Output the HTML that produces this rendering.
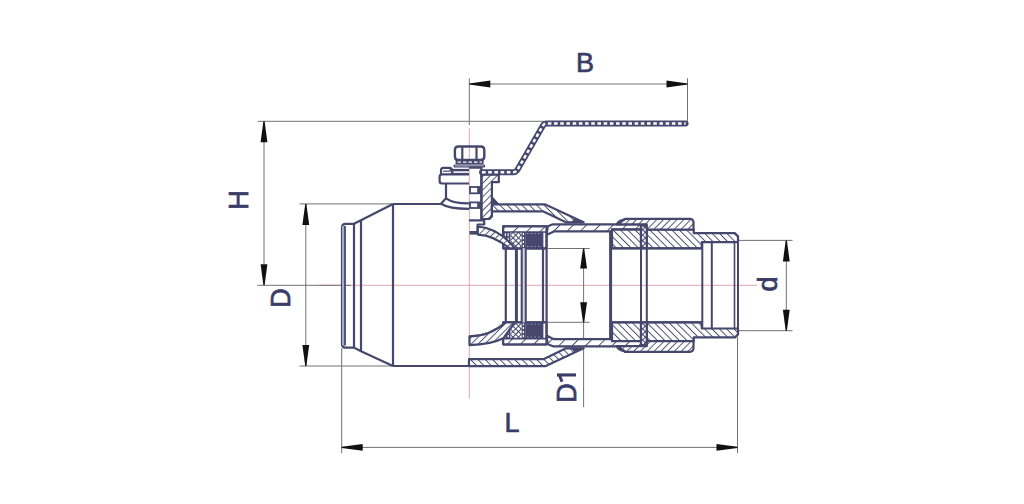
<!DOCTYPE html>
<html><head><meta charset="utf-8"><style>
html,body{margin:0;padding:0;background:#fff;}
svg{display:block;}
</style></head><body>
<svg width="1024" height="504" viewBox="0 0 1024 504">
<rect width="1024" height="504" fill="#ffffff"/>
<defs>
<pattern id="hA" patternUnits="userSpaceOnUse" width="5.2" height="5.2" patternTransform="rotate(-45)">
<rect width="5.2" height="5.2" fill="#fff"/><line x1="0" y1="0" x2="0" y2="5.2" stroke="#45476d" stroke-width="1.9"/></pattern>
<pattern id="hB" patternUnits="userSpaceOnUse" width="4.8" height="4.8" patternTransform="rotate(45)">
<rect width="4.8" height="4.8" fill="#fff"/><line x1="0" y1="0" x2="0" y2="4.8" stroke="#45476d" stroke-width="1.8"/></pattern>
<pattern id="hS" patternUnits="userSpaceOnUse" width="9.4" height="9.4" patternTransform="rotate(45)">
<rect width="9.4" height="9.4" fill="#fff"/><line x1="0" y1="0" x2="0" y2="9.4" stroke="#45476d" stroke-width="1.9"/></pattern>
<pattern id="hX" patternUnits="userSpaceOnUse" width="3.9" height="3.9" patternTransform="rotate(45)">
<rect width="3.9" height="3.9" fill="#fff"/><path d="M0,0 V3.9 M0,0 H3.9" stroke="#45476d" stroke-width="2.1"/></pattern>
</defs>
<line x1="319" y1="285.3" x2="757" y2="285.3" stroke="#e2a6ad" stroke-width="1" />
<line x1="469.3" y1="128.5" x2="469.3" y2="398.5" stroke="#e2a6ad" stroke-width="1" />
<line x1="469.3" y1="78.3" x2="469.3" y2="125" stroke="#727272" stroke-width="1" />
<line x1="687.5" y1="78.3" x2="687.5" y2="121.3" stroke="#727272" stroke-width="1" />
<line x1="469.3" y1="84" x2="687.5" y2="84" stroke="#727272" stroke-width="1" />
<line x1="257.7" y1="121.3" x2="544" y2="121.3" stroke="#727272" stroke-width="1" />
<line x1="264" y1="121.3" x2="264" y2="285.3" stroke="#727272" stroke-width="1" />
<line x1="257.4" y1="285.3" x2="351" y2="285.3" stroke="#727272" stroke-width="1" />
<line x1="299.5" y1="203.9" x2="392.5" y2="203.9" stroke="#727272" stroke-width="1" />
<line x1="299.5" y1="366" x2="392.5" y2="366" stroke="#727272" stroke-width="1" />
<line x1="305.8" y1="203.9" x2="305.8" y2="366" stroke="#727272" stroke-width="1" />
<line x1="341.7" y1="348" x2="341.7" y2="453.2" stroke="#727272" stroke-width="1" />
<line x1="737.5" y1="337" x2="737.5" y2="453.2" stroke="#727272" stroke-width="1" />
<line x1="341.7" y1="447.4" x2="737.5" y2="447.4" stroke="#727272" stroke-width="1" />
<line x1="548" y1="248.5" x2="589.6" y2="248.5" stroke="#727272" stroke-width="1" />
<line x1="548" y1="322.3" x2="589.6" y2="322.3" stroke="#727272" stroke-width="1" />
<line x1="583.6" y1="248.5" x2="583.6" y2="407.2" stroke="#727272" stroke-width="1" />
<line x1="738" y1="240.4" x2="792.5" y2="240.4" stroke="#727272" stroke-width="1" />
<line x1="738" y1="330.7" x2="792.5" y2="330.7" stroke="#727272" stroke-width="1" />
<line x1="786.3" y1="240.4" x2="786.3" y2="330.7" stroke="#727272" stroke-width="1" />
<path d="M469.3,83.4 L469.3,84.6 L490.3,87.4 L490.3,80.6 Z" fill="#111111"/>
<path d="M687.5,83.4 L687.5,84.6 L666.5,87.4 L666.5,80.6 Z" fill="#111111"/>
<path d="M263.4,121.3 L264.6,121.3 L267.4,142.3 L260.6,142.3 Z" fill="#111111"/>
<path d="M263.4,285.3 L264.6,285.3 L267.4,264.3 L260.6,264.3 Z" fill="#111111"/>
<path d="M305.2,203.9 L306.40000000000003,203.9 L309.2,224.9 L302.40000000000003,224.9 Z" fill="#111111"/>
<path d="M305.2,366 L306.40000000000003,366 L309.2,345 L302.40000000000003,345 Z" fill="#111111"/>
<path d="M341.7,446.79999999999995 L341.7,448.0 L362.7,450.79999999999995 L362.7,444.0 Z" fill="#111111"/>
<path d="M737.5,446.79999999999995 L737.5,448.0 L716.5,450.79999999999995 L716.5,444.0 Z" fill="#111111"/>
<path d="M583.0,248.5 L584.2,248.5 L587.0,268.5 L580.2,268.5 Z" fill="#111111"/>
<path d="M583.0,322.3 L584.2,322.3 L587.0,302.3 L580.2,302.3 Z" fill="#111111"/>
<path d="M785.6999999999999,240.4 L786.9,240.4 L789.6999999999999,261.4 L782.9,261.4 Z" fill="#111111"/>
<path d="M785.6999999999999,330.7 L786.9,330.7 L789.6999999999999,309.7 L782.9,309.7 Z" fill="#111111"/>
<path d="M354,223.8 L345.5,223.8 Q342,223.8 342,227.5 L342,344 Q342,347.6 345.5,347.6 L354,347.6" fill="none" stroke="#45476d" stroke-width="2.2" stroke-linejoin="round" />
<rect x="342" y="226" width="3" height="119" fill="#a9adc4"/>
<line x1="345" y1="226" x2="345" y2="345.5" stroke="#45476d" stroke-width="1.8" />
<line x1="354" y1="223.8" x2="354" y2="347.6" stroke="#45476d" stroke-width="2.2" />
<line x1="361" y1="220.2" x2="361" y2="351.3" stroke="#45476d" stroke-width="2.2" />
<path d="M354,223.8 L361,220.2 L393,204" fill="none" stroke="#45476d" stroke-width="2.2" stroke-linejoin="round" />
<path d="M354,347.6 L361,351.3 L393,366" fill="none" stroke="#45476d" stroke-width="2.2" stroke-linejoin="round" />
<line x1="393" y1="204" x2="393" y2="366" stroke="#45476d" stroke-width="2.2" />
<line x1="393" y1="204" x2="441" y2="204" stroke="#45476d" stroke-width="2.2" />
<line x1="393" y1="366" x2="470" y2="366" stroke="#45476d" stroke-width="2.2" />
<path d="M441,203.7 L446,198.3 L446,183.5" fill="none" stroke="#45476d" stroke-width="2.2" stroke-linejoin="round" />
<path d="M446,198.3 Q453,203.4 469,203.4" fill="none" stroke="#45476d" stroke-width="2.2" stroke-linejoin="round" />
<path d="M441,203.7 Q449,208.8 469,208.8" fill="none" stroke="#45476d" stroke-width="2.2" stroke-linejoin="round" />
<path d="M469,174.4 L442,174.4 Q439.6,174.4 439.6,176.8 L439.6,181.1 Q439.6,183.5 442,183.5 L469,183.5" fill="none" stroke="#45476d" stroke-width="2.2" stroke-linejoin="round" />
<path d="M449.6,170 L452.4,170 L469,170" fill="none" stroke="#45476d" stroke-width="2.2" stroke-linejoin="round" />
<path d="M451.9,174.4 L451.9,170.3 Q451.9,167.9 449.5,167.9 L443.4,167.9 Q441,167.9 441,170.3 L441,174.4" fill="none" stroke="#45476d" stroke-width="2.2" stroke-linejoin="round" />
<line x1="443" y1="171.2" x2="450" y2="171.2" stroke="#45476d" stroke-width="1.2" />
<path d="M458.4,146.5 L480.8,146.5 Q484.3,146.5 484.3,150 L484.3,156.4 Q484.3,159.9 480.8,159.9 L458.4,159.9 Q454.9,159.9 454.9,156.4 L454.9,150 Q454.9,146.5 458.4,146.5 Z" fill="none" stroke="#45476d" stroke-width="2.4" stroke-linejoin="round" />
<line x1="462.3" y1="147" x2="462.3" y2="159.5" stroke="#45476d" stroke-width="2.2" />
<line x1="476.5" y1="147" x2="476.5" y2="159.5" stroke="#45476d" stroke-width="2.2" />
<rect x="455.6" y="159.9" width="28" height="4.4" fill="#45476d"/>
<line x1="457.5" y1="162.1" x2="482" y2="162.1" stroke="#ffffff" stroke-width="1.2" stroke-dasharray="3.5 2"/>
<rect x="453.4" y="164.4" width="31.9" height="3.1" rx="1.5" fill="#45476d"/>
<line x1="455" y1="165.9" x2="483.5" y2="165.9" stroke="#dfe0e8" stroke-width="0.8" />
<path d="M481.4,174.6 L498.8,174.6 L498.8,182.2 L491.9,182.2 L491.9,216.5 L489.4,219 L481.4,219 Z" fill="url(#hB)" stroke="#45476d" stroke-width="2.2" stroke-linejoin="round" />
<path d="M469,167.6 L481.4,167.6 L481.4,220" fill="none" stroke="#45476d" stroke-width="2.2" stroke-linejoin="round" />
<rect x="477.2" y="187" width="4.2" height="6.300000000000011" fill="#45476d"/>
<rect x="470" y="187" width="11" height="6.300000000000011" fill="none" stroke="#45476d" stroke-width="1.8"/>
<rect x="477.2" y="202.4" width="4.2" height="5.599999999999994" fill="#45476d"/>
<rect x="470" y="202.4" width="11" height="5.599999999999994" fill="none" stroke="#45476d" stroke-width="1.8"/>
<path d="M469,220.4 L484.2,220.4 L484.2,224.5 L477.6,224.5 L477.6,231" fill="none" stroke="#45476d" stroke-width="2.2" stroke-linejoin="round" />
<rect x="469.5" y="231" width="8" height="3.6" fill="#45476d"/>
<path d="M492.7,197.2 L492.7,204.3 L499,204.3 Z" fill="#45476d" stroke="#45476d" stroke-width="1" stroke-linejoin="round" />
<path d="M482,172.2 L513.5,172.2 Q516,172.2 517.3,170 L543,125.6 Q544.2,123.4 546.6,123.4 L685.6,123.4" fill="none" stroke="#45476d" stroke-width="6" stroke-linejoin="round" stroke-linecap="round"/>
<path d="M482,172.2 L513.5,172.2 Q516,172.2 517.3,170 L543,125.6 Q544.2,123.4 546.6,123.4 L685.6,123.4" fill="none" stroke="#ffffff" stroke-width="2.5" stroke-linejoin="round" stroke-dasharray="3.6 2.6"/>
<line x1="452.4" y1="172.1" x2="469" y2="172.1" stroke="#45476d" stroke-width="5" />
<line x1="453.4" y1="172.1" x2="469" y2="172.1" stroke="#ffffff" stroke-width="1.6" />
<path d="M491.9,204.4 L545.3,204.4 L583.6,222.3 L566,222.3 L543.4,211.4 L491.9,211.4 Z" fill="url(#hA)" stroke="#45476d" stroke-width="2.2" stroke-linejoin="round" />
<path d="M574,219.4 L583.6,222.3 L572,222.3 Z" fill="#45476d" stroke="#45476d" stroke-width="1" stroke-linejoin="round" />
<path d="M547.8,226.3 L553,224.3 L641,224.3 L641,229.4 L612,229.4 L612,231.4 L553.8,231.4 L546.5,235 Z" fill="url(#hS)" stroke="#45476d" stroke-width="2.2" stroke-linejoin="round" />
<path d="M503.2,226.3 L546.5,226.3 L546.5,248.3 L503.2,248.3 Z" fill="#fff" stroke="#45476d" stroke-width="2.2" stroke-linejoin="round" />
<rect x="510.4" y="232" width="11.3" height="16.3" fill="url(#hX)"/>
<rect x="503.2" y="232" width="7.2" height="9" fill="#45476d"/>
<line x1="505.3" y1="233.2" x2="505.3" y2="240.2" stroke="#fff" stroke-width="1.2" stroke-dasharray="3 1.5"/>
<line x1="508.2" y1="233.2" x2="508.2" y2="240.2" stroke="#fff" stroke-width="1.2" stroke-dasharray="3 1.5"/>
<rect x="525.2" y="232" width="18.2" height="16.3" fill="#45476d"/>
<line x1="527" y1="233.6" x2="542" y2="233.6" stroke="#9a9cc0" stroke-width="1" stroke-dasharray="1.5 2.2"/>
<line x1="527" y1="246.6" x2="542" y2="246.6" stroke="#9a9cc0" stroke-width="1" stroke-dasharray="1.5 2.2"/>
<rect x="521.7" y="232" width="3.5" height="16.3" fill="#45476d"/>
<line x1="523.4" y1="233" x2="523.4" y2="247.5" stroke="#fff" stroke-width="1.3" stroke-dasharray="2.2 1.8"/>
<line x1="544.7" y1="233" x2="544.7" y2="247.5" stroke="#fff" stroke-width="1.6" stroke-dasharray="3 1.6"/>
<rect x="503.2" y="226.3" width="43.3" height="5.7" fill="url(#hS)"/>
<path d="M503.2,226.3 L546.5,226.3 L546.5,248.3 L503.2,248.3 Z" fill="none" stroke="#45476d" stroke-width="2.2" stroke-linejoin="round" />
<path d="M503.2,232 L546.5,232" fill="none" stroke="#45476d" stroke-width="1.6" stroke-linejoin="round" />
<path d="M477.8,226.6 C490,227.4 503,233.5 514.8,248.3 L509.5,248.3 C500,240.5 489,235 477.8,234.6 Z" fill="url(#hB)" stroke="#45476d" stroke-width="2.2" stroke-linejoin="round" />
<path d="M612,229.6 L641,229.6 L641,248.3 L612,248.3 Z" fill="url(#hA)" stroke="#45476d" stroke-width="2.2" stroke-linejoin="round" />
<path d="M646.8,229.6 L693.75,229.6 L693.75,233.2 L735,233.2 L738,236.2 L738,242.1 L701.8,242.1 L701.8,248.3 L646.8,248.3 Z" fill="url(#hA)" stroke="#45476d" stroke-width="2.2" stroke-linejoin="round" />
<path d="M641,225.6 L646.8,225.6 L646.8,248.3 L641,248.3 Z" fill="url(#hX)" stroke="#45476d" stroke-width="2.2" stroke-linejoin="round" />
<path d="M625,218.8 L690.5,218.8 L692.6,219.8 L693.5,222 L693.5,229.5 L646.8,229.5 L646.8,224.4 L616.5,224.4 Z" fill="url(#hB)" stroke="#45476d" stroke-width="2.2" stroke-linejoin="round" />
<path d="M616.2,224.2 Q617.5,219.6 625,218.8 L627.5,218.8 Q621.5,221 620.5,224.2 Z" fill="#45476d" stroke="#45476d" stroke-width="0.8" stroke-linejoin="round" />
<path d="M469,366.2 L545.3,366.2 L583.6,348.3 L566,348.3 L543.4,359.2 L469,359.2 Z" fill="url(#hA)" stroke="#45476d" stroke-width="2.2" stroke-linejoin="round" />
<path d="M574,351.2 L583.6,348.3 L572,348.3 Z" fill="#45476d" stroke="#45476d" stroke-width="1" stroke-linejoin="round" />
<path d="M547.8,344.3 L553,346.3 L641,346.3 L641,341.2 L612,341.2 L612,339.2 L553.8,339.2 L546.5,335.6 Z" fill="url(#hS)" stroke="#45476d" stroke-width="2.2" stroke-linejoin="round" />
<path d="M503.2,344.3 L546.5,344.3 L546.5,322.3 L503.2,322.3 Z" fill="#fff" stroke="#45476d" stroke-width="2.2" stroke-linejoin="round" />
<rect x="510.4" y="322.3" width="11.3" height="16.3" fill="url(#hX)"/>
<rect x="503.2" y="329.6" width="7.2" height="9" fill="#45476d"/>
<line x1="505.3" y1="330.4" x2="505.3" y2="337.4" stroke="#fff" stroke-width="1.2" stroke-dasharray="3 1.5"/>
<line x1="508.2" y1="330.4" x2="508.2" y2="337.4" stroke="#fff" stroke-width="1.2" stroke-dasharray="3 1.5"/>
<rect x="525.2" y="322.3" width="18.2" height="16.3" fill="#45476d"/>
<line x1="527" y1="337.0" x2="542" y2="337.0" stroke="#9a9cc0" stroke-width="1" stroke-dasharray="1.5 2.2"/>
<line x1="527" y1="324.0" x2="542" y2="324.0" stroke="#9a9cc0" stroke-width="1" stroke-dasharray="1.5 2.2"/>
<rect x="521.7" y="322.3" width="3.5" height="16.3" fill="#45476d"/>
<line x1="523.4" y1="323.1" x2="523.4" y2="337.6" stroke="#fff" stroke-width="1.3" stroke-dasharray="2.2 1.8"/>
<line x1="544.7" y1="323.1" x2="544.7" y2="337.6" stroke="#fff" stroke-width="1.6" stroke-dasharray="3 1.6"/>
<rect x="503.2" y="338.6" width="43.3" height="5.7" fill="url(#hS)"/>
<path d="M503.2,344.3 L546.5,344.3 L546.5,322.3 L503.2,322.3 Z" fill="none" stroke="#45476d" stroke-width="2.2" stroke-linejoin="round" />
<path d="M503.2,338.6 L546.5,338.6" fill="none" stroke="#45476d" stroke-width="1.6" stroke-linejoin="round" />
<path d="M469.5,345.1 C482,344.8 496,342 503.3,338.3 L514.7,322.4 L505.7,322.4 C497,330 486,336.3 469.5,336.4 Z" fill="url(#hB)" stroke="#45476d" stroke-width="2.2" stroke-linejoin="round" />
<path d="M612,341.0 L641,341.0 L641,322.3 L612,322.3 Z" fill="url(#hA)" stroke="#45476d" stroke-width="2.2" stroke-linejoin="round" />
<path d="M646.8,341.0 L693.75,341.0 L693.75,337.4 L735,337.4 L738,334.4 L738,328.5 L701.8,328.5 L701.8,322.3 L646.8,322.3 Z" fill="url(#hA)" stroke="#45476d" stroke-width="2.2" stroke-linejoin="round" />
<path d="M641,345.0 L646.8,345.0 L646.8,322.3 L641,322.3 Z" fill="url(#hX)" stroke="#45476d" stroke-width="2.2" stroke-linejoin="round" />
<path d="M625,351.8 L690.5,351.8 L692.6,350.8 L693.5,348.6 L693.5,341.1 L646.8,341.1 L646.8,346.2 L616.5,346.2 Z" fill="url(#hB)" stroke="#45476d" stroke-width="2.2" stroke-linejoin="round" />
<path d="M616.2,346.4 Q617.5,351.0 625,351.8 L627.5,351.8 Q621.5,349.6 620.5,346.4 Z" fill="#45476d" stroke="#45476d" stroke-width="0.8" stroke-linejoin="round" />
<rect x="522" y="248.3" width="3.6" height="74.0" fill="#d4d5e2"/>
<line x1="505.8" y1="248.3" x2="505.8" y2="322.3" stroke="#45476d" stroke-width="2.2" />
<line x1="516.4" y1="248.3" x2="516.4" y2="322.3" stroke="#45476d" stroke-width="3" />
<line x1="521.7" y1="248.3" x2="521.7" y2="322.3" stroke="#45476d" stroke-width="2" />
<line x1="525.75" y1="248.3" x2="525.75" y2="322.3" stroke="#45476d" stroke-width="2" />
<line x1="543" y1="248.3" x2="543" y2="322.3" stroke="#45476d" stroke-width="2.2" />
<line x1="546.6" y1="248.3" x2="546.6" y2="322.3" stroke="#45476d" stroke-width="2.2" />
<line x1="610.6" y1="231.4" x2="610.6" y2="339.2" stroke="#45476d" stroke-width="3" />
<line x1="641" y1="248.3" x2="641" y2="322.3" stroke="#45476d" stroke-width="2" />
<line x1="646.8" y1="248.3" x2="646.8" y2="322.3" stroke="#45476d" stroke-width="2" />
<line x1="702.3" y1="242.1" x2="702.3" y2="328.5" stroke="#45476d" stroke-width="2" />
<line x1="711.8" y1="242.1" x2="711.8" y2="328.5" stroke="#45476d" stroke-width="2" />
<line x1="734.5" y1="242.1" x2="734.5" y2="328.5" stroke="#45476d" stroke-width="1.6" />
<line x1="738" y1="242.1" x2="738" y2="328.5" stroke="#45476d" stroke-width="2" />
<line x1="611" y1="248.3" x2="702" y2="248.3" stroke="#45476d" stroke-width="2" />
<line x1="611" y1="322.3" x2="702" y2="322.3" stroke="#45476d" stroke-width="2" />
<text x="585" y="72" text-anchor="middle" font-family="Liberation Sans, sans-serif" font-size="27" fill="#3a3c68" stroke="#3a3c68" stroke-width="0.7">B</text>
<text x="512" y="432.4" text-anchor="middle" font-family="Liberation Sans, sans-serif" font-size="27" fill="#3a3c68" stroke="#3a3c68" stroke-width="0.7">L</text>
<text transform="translate(248.2,200) rotate(-90)" x="0" y="0" text-anchor="middle" font-family="Liberation Sans, sans-serif" font-size="27" fill="#3a3c68" stroke="#3a3c68" stroke-width="0.7">H</text>
<text transform="translate(290.1,297.9) rotate(-90)" x="0" y="0" text-anchor="middle" font-family="Liberation Sans, sans-serif" font-size="27" fill="#3a3c68" stroke="#3a3c68" stroke-width="0.7">D</text>
<text transform="translate(576.2,393) rotate(-90)" x="0" y="0" text-anchor="middle" font-family="Liberation Sans, sans-serif" font-size="27" fill="#3a3c68" stroke="#3a3c68" stroke-width="0.7">D</text>
<rect x="557" y="373.4" width="19" height="3.1" fill="#3a3c68"/>
<path d="M559.6,375.5 L562,381.8" stroke="#3a3c68" stroke-width="3" fill="none"/>
<text transform="translate(777.3,284) rotate(-90)" x="0" y="0" text-anchor="middle" font-family="Liberation Sans, sans-serif" font-size="27" fill="#3a3c68" stroke="#3a3c68" stroke-width="0.7">d</text>
</svg></body></html>
